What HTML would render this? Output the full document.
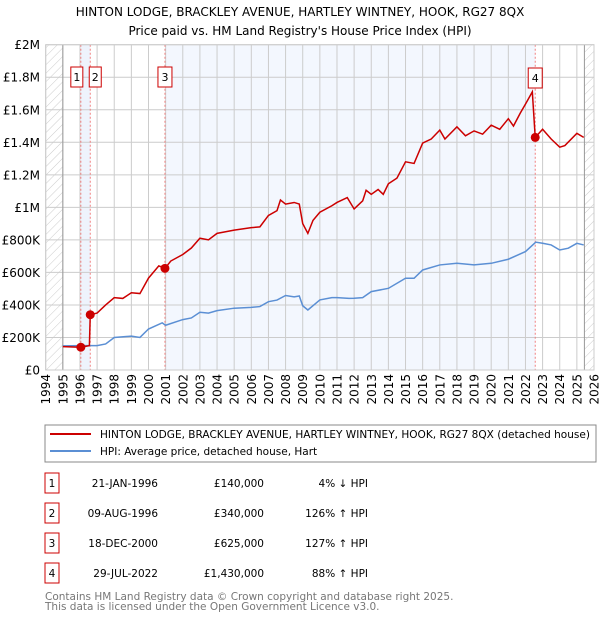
<!DOCTYPE html>
<html><head><meta charset="utf-8"><style>
body{margin:0;background:#fff;}
svg text{font-family:"DejaVu Sans","Liberation Sans",sans-serif;}
</style></head><body>
<svg id="c" width="600" height="620" xmlns="http://www.w3.org/2000/svg">
<defs><pattern id="hatch" width="6" height="6" patternUnits="userSpaceOnUse" patternTransform="rotate(45)"><line x1="0" y1="0" x2="0" y2="6" stroke="#ccc" stroke-width="1"/></pattern></defs>
<text x="300" y="16" text-anchor="middle" font-size="12">HINTON LODGE, BRACKLEY AVENUE, HARTLEY WINTNEY, HOOK, RG27 8QX</text>
<text x="300" y="35" text-anchor="middle" font-size="12">Price paid vs. HM Land Registry's House Price Index (HPI)</text>
<g id="plot"></g>
<rect x="45" y="425" width="551" height="37" fill="#fff" stroke="#888"/>
<line x1="50" y1="434" x2="91" y2="434" stroke="#cc0000" stroke-width="2"/>
<text x="100" y="438" font-size="10.5" textLength="490" lengthAdjust="spacingAndGlyphs">HINTON LODGE, BRACKLEY AVENUE, HARTLEY WINTNEY, HOOK, RG27 8QX (detached house)</text>
<line x1="50" y1="451" x2="91" y2="451" stroke="#5b8fd4" stroke-width="2"/>
<text x="100" y="455" font-size="10.5">HPI: Average price, detached house, Hart</text>
<g id="table" font-size="10.5"></g>
<text x="45" y="600" font-size="10.5" fill="#777">Contains HM Land Registry data © Crown copyright and database right 2025.</text>
<text x="45" y="610" font-size="10.5" fill="#777">This data is licensed under the Open Government Licence v3.0.</text>
</svg>
<script>
const hpiYears=[1995,1996,1997,1997.5,1998,1999,1999.5,2000,2000.8,2001,2002,2002.5,2003,2003.5,2004,2005,2006,2006.5,2007,2007.5,2008,2008.5,2008.8,2009,2009.3,2010,2010.7,2011,2011.7,2012,2012.5,2013,2014,2015,2015.5,2016,2017,2018,2019,2020,2021,2022,2022.6,2023,2023.5,2024,2024.5,2025,2025.4];
const hpiValues=[148,150,150,160,200,208,200,252,290,275,310,320,355,350,365,380,385,390,420,430,458,450,455,395,369,431,445,445,440,441,445,482,502,564,564,615,646,656,646,656,681,728,786,779,769,738,749,779,769];
const propYears=[1995,1996.05,1996.55,1996.6,1997,1997.5,1998,1998.5,1999,1999.5,2000,2000.6,2000.96,2001.3,2002,2002.5,2003,2003.5,2004,2004.5,2005,2006,2006.5,2007,2007.5,2007.7,2008,2008.5,2008.8,2009,2009.3,2009.6,2010,2010.7,2011,2011.6,2012,2012.5,2012.7,2013,2013.4,2013.7,2014,2014.5,2015,2015.5,2016,2016.5,2017,2017.3,2018,2018.5,2019,2019.5,2020,2020.5,2021,2021.3,2021.7,2022,2022.4,2022.57,2023,2023.5,2024,2024.3,2025,2025.4];
const propValues=[144,140,150,340,350,400,445,440,475,470,565,640,625,670,710,750,810,800,840,850,860,875,880,950,980,1045,1020,1030,1020,900,840,920,970,1010,1030,1060,990,1040,1105,1080,1110,1080,1145,1180,1280,1270,1395,1420,1475,1420,1495,1440,1470,1450,1505,1480,1545,1500,1580,1635,1710,1430,1480,1420,1370,1380,1455,1430];
const saleYears=[1996.05,1996.6,2000.96,2022.57];
const saleValues=[140,340,625,1430];
const saleLabels=["1","2","3","4"];
const saleDates=["21-JAN-1996","09-AUG-1996","18-DEC-2000","29-JUL-2022"];
const salePrices=["£140,000","£340,000","£625,000","£1,430,000"];
const saleHpi=["4% ↓ HPI","126% ↑ HPI","127% ↑ HPI","88% ↑ HPI"];
const yTicks=[0,200,400,600,800,1000,1200,1400,1600,1800,2000];
const yTickLabels=["£0","£200K","£400K","£600K","£800K","£1M","£1.2M","£1.4M","£1.6M","£1.8M","£2M"];
const xTicks=[1994,1995,1996,1997,1998,1999,2000,2001,2002,2003,2004,2005,2006,2007,2008,2009,2010,2011,2012,2013,2014,2015,2016,2017,2018,2019,2020,2021,2022,2023,2024,2025,2026];

const NS="http://www.w3.org/2000/svg";
const X0=45.7,X1=594,Y0=370,Y1=44.7;
const xs=y=>X0+(y-1994)/(2026-1994)*(X1-X0);
const ys=v=>Y0-v/2000*(Y0-Y1);
const plot=document.getElementById('plot');
function mk(tag,attrs,parent){const e=document.createElementNS(NS,tag);for(const k in attrs)e.setAttribute(k,attrs[k]);(parent||plot).appendChild(e);return e;}
let e;
e=mk('rect',{x:X0,y:Y1,width:X1-X0,height:Y0-Y1,fill:'#fff'});


e=mk('rect',{x:xs(saleYears[0]),y:Y1,width:xs(saleYears[1])-xs(saleYears[0]),height:Y0-Y1,fill:'#eef3fc'});


e=mk('rect',{x:xs(saleYears[2]),y:Y1,width:xs(saleYears[3])-xs(saleYears[2]),height:Y0-Y1,fill:'#f3f7fe'});


e=mk('rect',{x:xs(1994),y:Y1,width:xs(1995)-xs(1994),height:Y0-Y1,fill:'url(#hatch)'});


e=mk('rect',{x:xs(2025.44),y:Y1,width:xs(2026)-xs(2025.44),height:Y0-Y1,fill:'url(#hatch)'});


yTicks.forEach((t,i)=>{
 e=mk('line',{x1:X0,x2:X1,y1:ys(t),y2:ys(t),stroke:'#ccc','stroke-width':1});
 
 
 e=mk('text',{x:40,y:ys(t)+4.5,'text-anchor':'end','font-size':12});
 e.textContent=yTickLabels[i];
 
 
});
xTicks.forEach(t=>{
 e=mk('line',{x1:xs(t),x2:xs(t),y1:Y1,y2:Y0,stroke:'#ccc','stroke-width':1});
 
 
 e=mk('text',{x:0,y:0,'text-anchor':'end','font-size':12,transform:`translate(${xs(t)+4.5},374) rotate(-90)`});
 e.textContent=t;
 
 
});
[1995,2025.44].forEach(t=>{
 e=mk('line',{x1:xs(t),x2:xs(t),y1:Y1,y2:Y0,stroke:'#999','stroke-width':1});
 
 
});
saleYears.forEach(t=>{
 e=mk('line',{x1:xs(t),x2:xs(t),y1:Y1,y2:Y0,stroke:'#f08080','stroke-width':1,'stroke-dasharray':'2,2'});
 
 
});
e=mk('polyline',{points:hpiYears.map((y,i)=>xs(y)+','+ys(hpiValues[i])).join(' '),fill:'none',stroke:'#5b8fd4','stroke-width':1.5});


e=mk('polyline',{points:propYears.map((y,i)=>xs(y)+','+ys(propValues[i])).join(' '),fill:'none',stroke:'#cc0000','stroke-width':1.5});


saleYears.forEach((t,i)=>{
 e=mk('circle',{cx:xs(t),cy:ys(saleValues[i]),r:4.5,fill:'#cc0000'});
 
 
 const by=i==3?68:67;
 e=mk('rect',{x:(i==0?xs(t)-10:i==1?xs(t)-1:xs(t)-7),y:by,width:(i<2?12:14),height:20,fill:'#fff',stroke:'#cc0000','stroke-width':1});
 
 
 e=mk('text',{x:(i==0?xs(t)-4:i==1?xs(t)+5:xs(t)),y:by+14,'text-anchor':'middle','font-size':11});
 e.textContent=saleLabels[i];
 
 
});
e=mk('rect',{x:X0,y:Y1,width:X1-X0,height:Y0-Y1,fill:'none',stroke:'#ccc'});


const tb=document.getElementById('table');
saleLabels.forEach((l,i)=>{
 const cy=483+i*30;
 e=mk('rect',{x:45,y:cy-10,width:14,height:20,fill:'#fff',stroke:'#cc0000'},tb);
 
 
 e=mk('text',{x:52,y:cy+4,'text-anchor':'middle'},tb);e.textContent=l;
 
 
 e=mk('text',{x:158,y:cy+4,'text-anchor':'end'},tb);e.textContent=saleDates[i];
 
 
 e=mk('text',{x:264,y:cy+4,'text-anchor':'end'},tb);e.textContent=salePrices[i];
 
 
 e=mk('text',{x:368,y:cy+4,'text-anchor':'end'},tb);e.textContent=saleHpi[i];
 
 
});
</script>
</body></html>
